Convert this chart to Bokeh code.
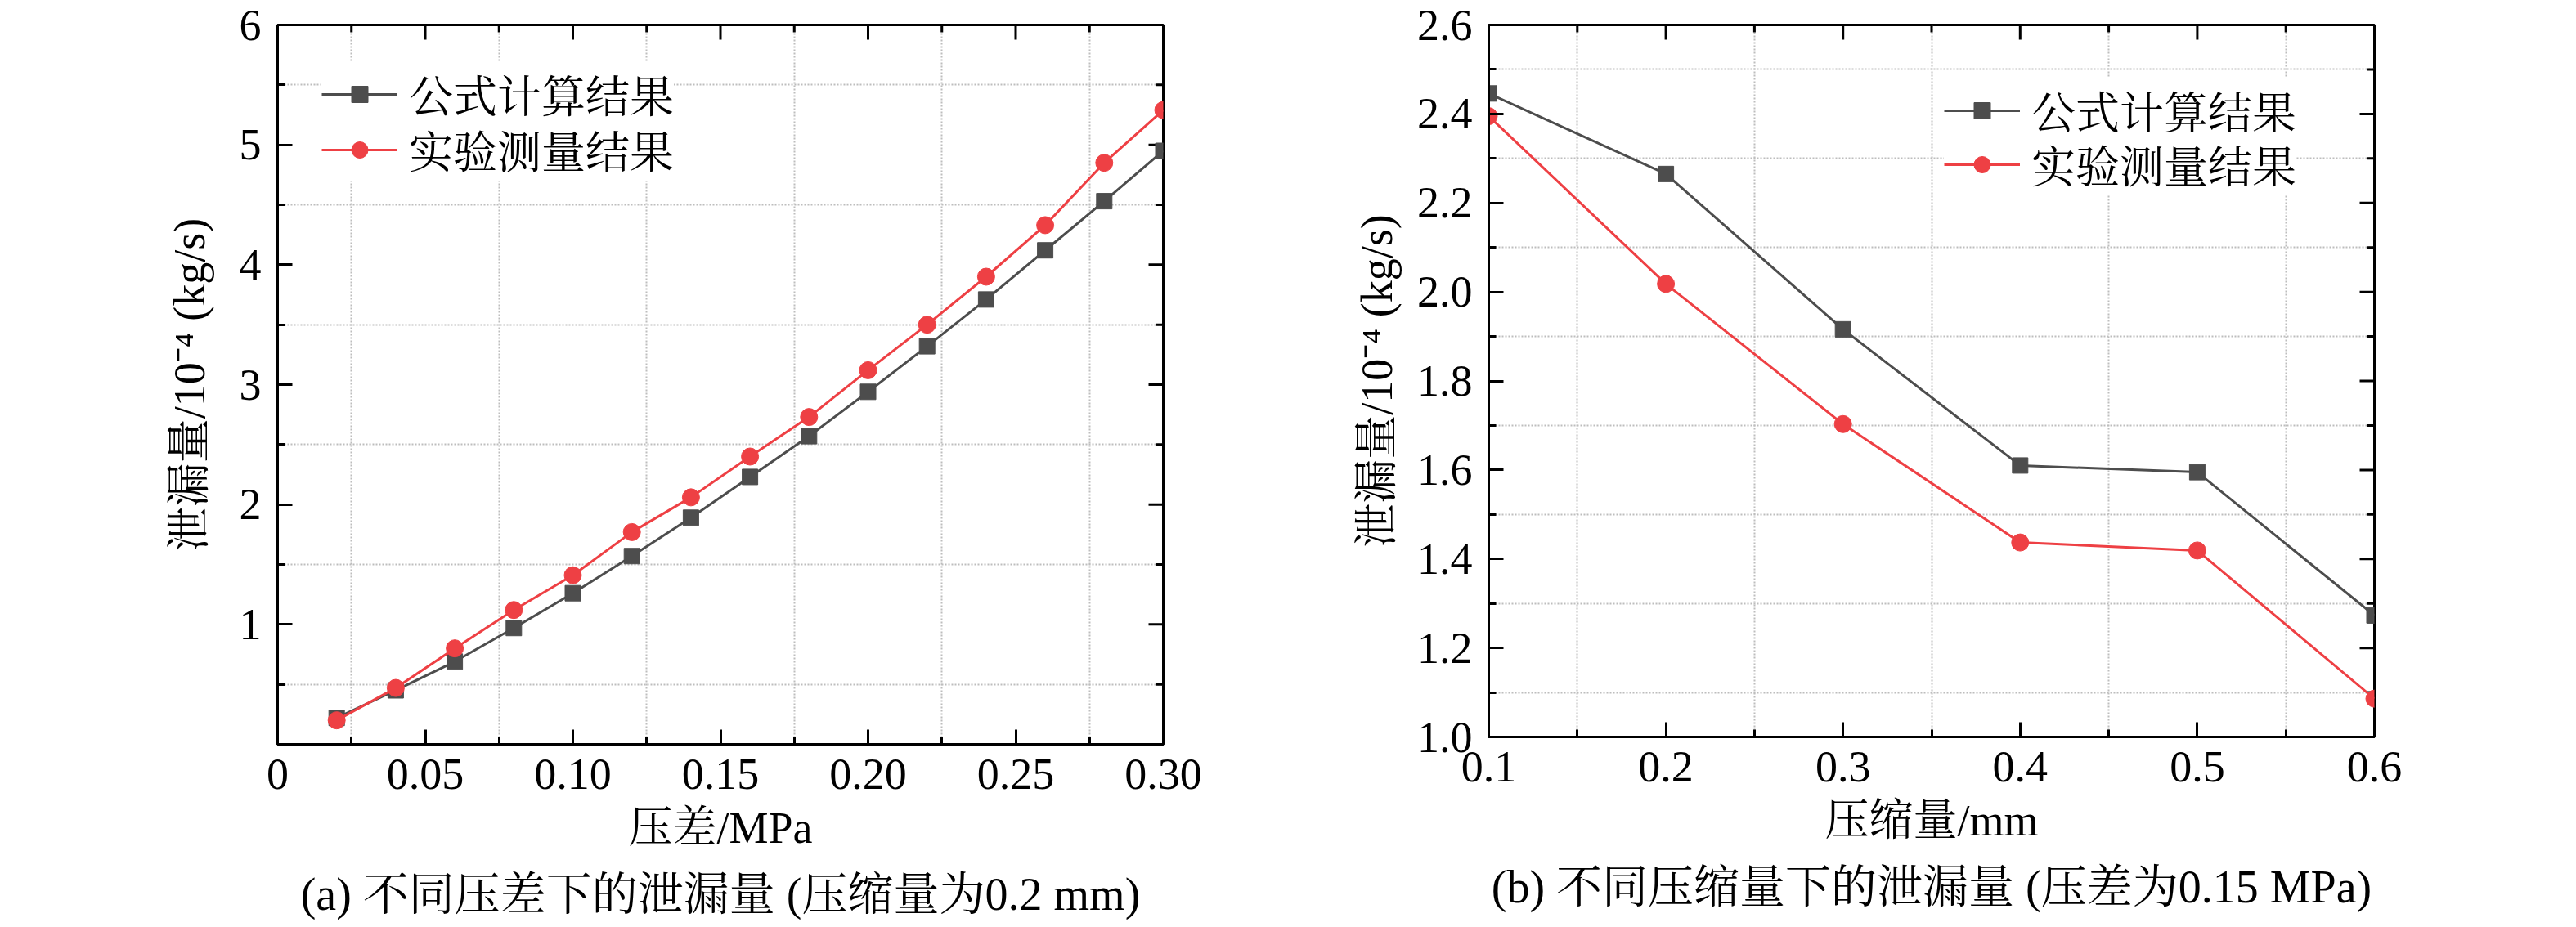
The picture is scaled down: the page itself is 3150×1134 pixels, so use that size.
import math
from bokeh.plotting import figure
from bokeh.models import (FixedTicker, Range1d, Legend, LegendItem,
                          Title, NumeralTickFormatter)
from bokeh.layouts import row
from bokeh.embed import file_html
from bokeh.resources import INLINE

FONT = "'Times New Roman', 'Liberation Serif', 'Noto Serif CJK SC', 'Noto Sans CJK SC', serif"

# ---------------- data: (a) leakage vs pressure difference ----------------
pressure_diff = [0.02, 0.04, 0.06, 0.08, 0.10, 0.12, 0.14, 0.16, 0.18, 0.20,
                 0.22, 0.24, 0.26, 0.28, 0.30]
calc_a = [0.22, 0.45, 0.69, 0.97, 1.26, 1.57, 1.89, 2.23, 2.57, 2.94,
          3.32, 3.71, 4.12, 4.53, 4.95]
meas_a = [0.20, 0.47, 0.80, 1.12, 1.41, 1.77, 2.06, 2.40, 2.73, 3.12,
          3.50, 3.90, 4.33, 4.85, 5.29]

# ---------------- data: (b) leakage vs compression ----------------
compression = [0.1, 0.2, 0.3, 0.4, 0.5, 0.6]
calc_b = [2.446, 2.265, 1.916, 1.610, 1.595, 1.273]
meas_b = [2.395, 2.018, 1.703, 1.437, 1.419, 1.086]

series_names = ["公式计算结果", "实验测量结果"]

# ticks
xa_major = [0, 0.05, 0.10, 0.15, 0.20, 0.25, 0.30]
xa_labels = ["0", "0.05", "0.10", "0.15", "0.20", "0.25", "0.30"]
xa_minor = [0.025, 0.075, 0.125, 0.175, 0.225, 0.275]
ya_major = [1, 2, 3, 4, 5, 6]
ya_labels = ["1", "2", "3", "4", "5", "6"]
ya_minor = [0.5, 1.5, 2.5, 3.5, 4.5, 5.5]

xb_major = [0.1, 0.2, 0.3, 0.4, 0.5, 0.6]
xb_labels = ["0.1", "0.2", "0.3", "0.4", "0.5", "0.6"]
xb_minor = [0.15, 0.25, 0.35, 0.45, 0.55]
yb_major = [1.0, 1.2, 1.4, 1.6, 1.8, 2.0, 2.2, 2.4, 2.6]
yb_labels = ["1.0", "1.2", "1.4", "1.6", "1.8", "2.0", "2.2", "2.4", "2.6"]
yb_minor = [1.1, 1.3, 1.5, 1.7, 1.9, 2.1, 2.3, 2.5]

titles = {
    "xa": "压差/MPa",
    "xb": "压缩量/mm",
    "y": "泄漏量/10⁻⁴ (kg/s)",
    "cap_a": "(a) 不同压差下的泄漏量 (压缩量为0.2 mm)",
    "cap_b": "(b) 不同压缩量下的泄漏量 (压差为0.15 MPa)",
}

BLACK = "#4d4d4d"
RED = "#ee4044"


def style_axis(ax, major, minor, labels, fmt):
    ax.ticker = FixedTicker(ticks=major, minor_ticks=minor)
    ax.formatter = NumeralTickFormatter(format=fmt)
    ax.major_label_overrides = dict(zip(major, labels))
    ax.axis_line_width = 3
    ax.axis_line_color = "black"
    ax.major_tick_line_width = 3
    ax.minor_tick_line_width = 3
    ax.major_tick_line_color = "black"
    ax.minor_tick_line_color = "black"
    ax.major_tick_in = 18
    ax.major_tick_out = 0
    ax.minor_tick_in = 9
    ax.minor_tick_out = 0
    ax.major_label_text_font = FONT
    ax.major_label_text_font_size = "54px"
    ax.major_label_text_color = "black"
    ax.axis_label_text_font = FONT
    ax.axis_label_text_font_style = "normal"
    ax.axis_label_text_font_size = "54px"
    ax.axis_label_text_color = "black"


def mirror_ticks(p, xr, yr, xmaj, xmin, ymaj, ymin):
    # ticks on the top and right frame edges, pointing inward
    p.ray(x=xmaj, y=[yr[1]] * len(xmaj), length=18, length_units="screen",
          angle=-math.pi / 2, line_color="black", line_width=3)
    p.ray(x=xmin, y=[yr[1]] * len(xmin), length=9, length_units="screen",
          angle=-math.pi / 2, line_color="black", line_width=3)
    p.ray(x=[xr[1]] * len(ymaj), y=ymaj, length=18, length_units="screen",
          angle=math.pi, line_color="black", line_width=3)
    p.ray(x=[xr[1]] * len(ymin), y=ymin, length=9, length_units="screen",
          angle=math.pi, line_color="black", line_width=3)


def make_legend(p, label, renderers, loc):
    lg = Legend(items=[LegendItem(label=label, renderers=renderers)], location=loc)
    lg.label_text_font = FONT
    lg.label_text_font_size = "54px"
    lg.label_text_color = "black"
    lg.glyph_width = 93
    lg.glyph_height = 50
    lg.label_height = 20
    lg.label_standoff = 14
    lg.spacing = 0
    lg.padding = 10
    lg.margin = 0
    lg.border_line_color = None
    lg.background_fill_color = "white"
    lg.background_fill_alpha = 1.0
    p.add_layout(lg)


def make_panel(x, y1, y2, xr, yr, xmaj, xmin, xlab, xfmt, ymaj, ymin, ylab, yfmt,
               xtitle, caption, border, frame_h, legend_locs, ylabel_standoff):
    left, top, right, bottom = border
    p = figure(frame_width=1083, frame_height=frame_h,
               x_range=Range1d(*xr), y_range=Range1d(*yr),
               min_border_left=left, min_border_right=right,
               min_border_top=top, min_border_bottom=bottom,
               output_backend="svg", toolbar_location=None,
               background_fill_color="white", border_fill_color="white")
    p.outline_line_color = "black"
    p.outline_line_width = 3

    # grids at minor positions, dotted
    p.xgrid.ticker = FixedTicker(ticks=xmin)
    p.ygrid.ticker = FixedTicker(ticks=ymin)
    for g in (p.xgrid, p.ygrid):
        g.grid_line_color = "#bdbdbd"
        g.grid_line_width = 2
        g.grid_line_dash = "2 2"

    style_axis(p.xaxis[0], xmaj, xmin, xlab, xfmt)
    style_axis(p.yaxis[0], ymaj, ymin, ylab, yfmt)
    p.xaxis[0].axis_label = xtitle
    p.yaxis[0].axis_label = titles["y"]
    p.xaxis[0].major_label_standoff = 18
    p.xaxis[0].axis_label_standoff = 15
    p.yaxis[0].major_label_standoff = 20
    p.yaxis[0].axis_label_standoff = ylabel_standoff

    mirror_ticks(p, xr, yr, xmaj, xmin, ymaj, ymin)

    l1 = p.line(x, y1, line_color=BLACK, line_width=3)
    s1 = p.scatter(x, y1, marker="square", size=19, fill_color=BLACK, line_color=BLACK)
    l2 = p.line(x, y2, line_color=RED, line_width=3)
    s2 = p.scatter(x, y2, marker="circle", size=21, fill_color=RED, line_color=RED)

    make_legend(p, series_names[0], [l1, s1], legend_locs[0])
    make_legend(p, series_names[1], [l2, s2], legend_locs[1])

    cap = Title(text=caption, align="center", text_font=FONT, text_font_size="56px",
                text_font_style="normal", text_color="black", standoff=30)
    p.add_layout(cap, "below")
    return p


pa = make_panel(pressure_diff, calc_a, meas_a, (0, 0.30), (0, 6),
                xa_major, xa_minor, xa_labels, "0.00",
                ya_major, ya_minor, ya_labels, "0",
                titles["xa"], titles["cap_a"],
                (339, 20, 150, 226), 880, [(54, 757), (54, 689)], 28)

pb = make_panel(compression, calc_b, meas_b, (0.1, 0.6), (1.0, 2.6),
                xb_major, xb_minor, xb_labels, "0.0",
                yb_major, yb_minor, yb_labels, "0.0",
                titles["xb"], titles["cap_b"],
                (248, 30, 231, 225), 871, [(557, 728), (557, 662)], 16)

layout = row(pa, pb)
open("out.html", "w").write(file_html(layout, INLINE))
